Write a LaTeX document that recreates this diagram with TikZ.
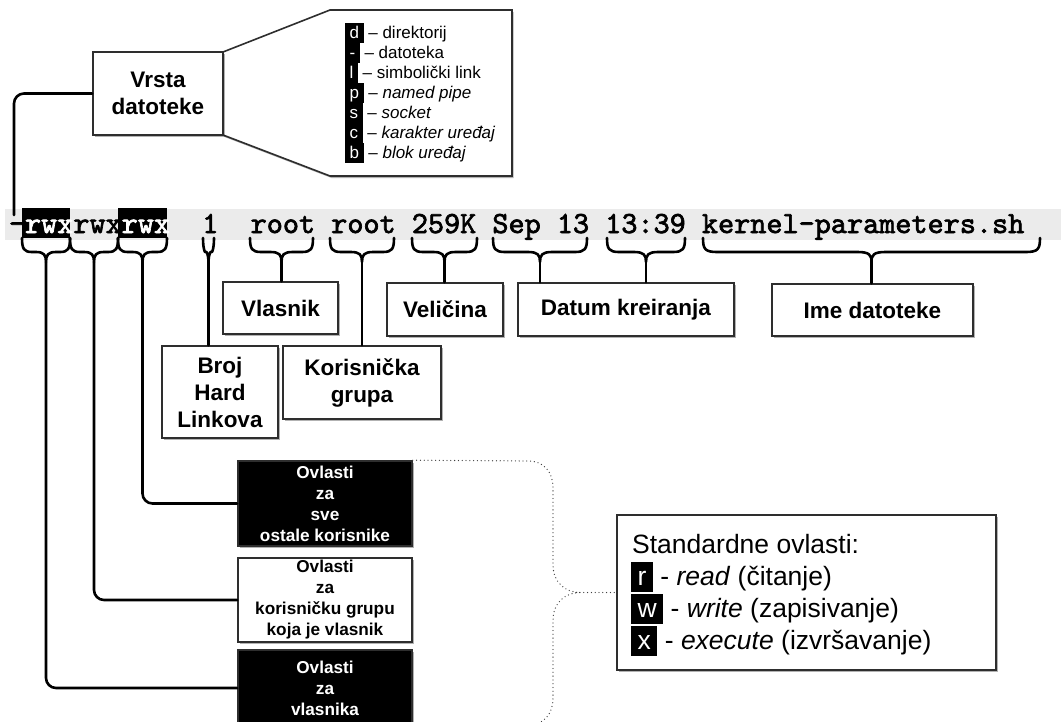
\documentclass[tikz,border=0pt]{standalone}
\usepackage{fontspec}
\setmainfont{Liberation Sans}
\newfontfamily\lsmono{lmmono10-regular.otf}[FakeBold=2.2]
\usetikzlibrary{shadows}
\definecolor{band}{gray}{0.92}
\definecolor{boxline}{gray}{0.18}
\newcommand\typekey[1]{{\setlength{\fboxsep}{0pt}\colorbox{black}{\hspace{4.5pt}\textcolor{white}{\rule[-4.5pt]{0pt}{20pt}#1}\hspace{4.5pt}}}}
\newcommand\stdkey[1]{{\setlength{\fboxsep}{0pt}\colorbox{black}{\hspace{6.5pt}\textcolor{white}{\rule[-7pt]{0pt}{30pt}#1}\hspace{6.5pt}}}}
\newcommand\lsbrace[4]{%
  \pgfmathsetmacro\bm{(#1+#2)/2}%
  \coordinate (#3) at (\bm,262);
  \draw[conn] (#1,238) .. controls (#1,249) and ({#1+2},252) .. ({#1+#4},252)
     -- ({\bm-#4},252) .. controls ({\bm-2},252) and (\bm,255) .. (#3)
     .. controls (\bm,255) and ({\bm+2},252) .. ({\bm+#4},252)
     -- ({#2-#4},252) .. controls ({#2-2},252) and (#2,249) .. (#2,238);
}
\begin{document}
\begin{tikzpicture}[x=1pt, y=-1pt,
  conn/.style={line width=2.6pt, line cap=round, line join=round},
  shdw/.style={drop shadow={shadow xshift=1.5pt, shadow yshift=-2pt, opacity=0.3, fill=black}},
  lbl/.style={draw=boxline, line width=1.6pt, fill=white, font=\fontsize{22.5}{27}\selectfont\bfseries, align=center, inner sep=0pt, shdw},
  perm/.style={draw=boxline, line width=1.6pt, font=\fontsize{17.2}{21}\selectfont\bfseries, align=center, inner sep=0pt, minimum width=174pt, shdw},
  lst/.style={anchor=base west, inner sep=0pt, font=\fontsize{17}{20}\selectfont},
  std/.style={anchor=base west, inner sep=0pt, font=\fontsize{26.5}{32}\selectfont},
  dots/.style={line width=1.3pt, line cap=round, dash pattern=on 0pt off 3.8pt, draw=black!75}]
\useasboundingbox (0,0) rectangle (1061,721);
\clip (0,0) rectangle (1061,721);

% file type callout
\coordinate (c1) at (330,10);
\coordinate (c2) at (512,10);
\coordinate (c3) at (512,176);
\coordinate (c4) at (330,176);
\coordinate (vne) at (223,52);
\coordinate (vse) at (223,135);
\draw[draw=boxline, line width=1.6pt, fill=white, line join=miter, shdw] (vne) -- (c1) -- (c2) -- (c3) -- (c4) -- (vse);
\node[lbl, minimum width=130pt, minimum height=83pt] (vr) at (158,93.5) {Vrsta\\datoteke};
\node[lst] (t1) at (345,38.5) {\typekey{d} – direktorij};
\node[lst] (t2) at (345,58.5) {\typekey{-} – datoteka};
\node[lst] (t3) at (345,78.5) {\typekey{l} – simbolički link};
\node[lst] (t4) at (345,98.5) {\typekey{p} – \textit{named pipe}};
\node[lst] (t5) at (345,118.5) {\typekey{s} – \textit{socket}};
\node[lst] (t6) at (345,138.5) {\typekey{c} – \textit{karakter uređaj}};
\node[lst] (t7) at (345,158.5) {\typekey{b} – \textit{blok uređaj}};

% listing line
\fill[band] (5,209) rectangle (1061,240);
\fill[black] (22,208) rectangle (70,238);
\fill[black] (118,208) rectangle (167,238);
\node[anchor=base west, inner sep=0pt, font=\fontsize{30.7}{30.7}\selectfont\lsmono] (ls) at (8.7,233)
  {-\textcolor{white}{rwx}rwx\textcolor{white}{rwx}\ \ 1\ \ root root 259K Sep 13 13:39 kernel-parameters.sh};
\coordinate (ft) at (14,215);
\draw[conn, rounded corners=10pt] (vr.west) -| (ft);

% braces
\lsbrace{22}{70}{b1}{10}
\lsbrace{70}{118}{b2}{10}
\lsbrace{118}{167}{b3}{10}
\lsbrace{203}{214}{b4}{2}
\lsbrace{250}{313}{b5}{11}
\lsbrace{330}{394}{b6}{11}
\lsbrace{412}{477}{b7}{11}
\lsbrace{493}{587}{b8}{12}
\lsbrace{607}{685}{b9}{12}
\lsbrace{703}{1040}{b10}{14}

% labels
\node[lbl, minimum width=115pt, minimum height=52pt] (vl) at (280.5,308) {Vlasnik};
\node[lbl, minimum width=116pt, minimum height=53pt] (ve) at (445,309.5) {Veličina};
\node[lbl, minimum width=216pt, minimum height=53pt] (dk) at (626,309.5) {Datum kreiranja};
\node[lbl, minimum width=201pt, minimum height=52pt] (im) at (872.5,310) {Ime datoteke};
\node[lbl, minimum width=116pt, minimum height=92pt] (br) at (220,392) {Broj\\Hard\\Linkova};
\node[lbl, minimum width=158pt, minimum height=73pt] (kg) at (362,382.5) {Korisnička\\grupa};

\draw[conn] (b4) -- (b4 |- br.north);
\draw[conn] (b5) -- (b5 |- vl.north);
\draw[conn] (b6) -- (b6 |- kg.north);
\draw[conn] (b7) -- (b7 |- ve.north);
\draw[conn] (b8) -- (b8 |- dk.north);
\draw[conn] (b9) -- (b9 |- dk.north);
\draw[conn] (b10) -- (b10 |- im.north);

% permission boxes
\node[perm, fill=black, text=white, minimum height=85pt] (o1) at (325,503.5) {Ovlasti\\za\\sve\\ostale korisnike};
\node[perm, fill=white, minimum height=84pt] (o2) at (325,600) {Ovlasti\\za\\korisničku grupu\\koja je vlasnik};
\node[perm, fill=black, text=white, minimum height=76pt] (o3) at (325,688) {Ovlasti\\za\\vlasnika};

\draw[conn, rounded corners=10pt] (b3) |- (o1.west);
\draw[conn, rounded corners=10pt] (b2) |- (o2.west);
\draw[conn, rounded corners=10pt] (b1) |- (o3.west);

% standard permissions
\node[draw=boxline, line width=1.6pt, fill=white, minimum width=379pt, minimum height=155pt, inner sep=0pt, shdw] (sb) at (806.5,592.5) {};
\node[std] (s0) at (632,553) {Standardne ovlasti:};
\node[std] (s1) at (631,585) {\stdkey{r} - \textit{read} (čitanje)};
\node[std] (s2) at (631,617) {\stdkey{w} - \textit{write} (zapisivanje)};
\node[std] (s3) at (631,649) {\stdkey{x} - \textit{execute} (izvršavanje)};

% dotted brace
\coordinate (tip) at (580,592.5);
\draw[dots] (o1.north east) -- (528,461) .. controls (544,461) and (553,472) .. (553,488)
  -- (553,565) .. controls (553,582) and (565,592.5) .. (tip)
  .. controls (565,592.5) and (553,603) .. (553,620)
  -- (553,698) .. controls (553,714) and (544,725) .. (528,725) -- (412,725);
\draw[dots] (tip) -- (sb.west);
\end{tikzpicture}
\end{document}
